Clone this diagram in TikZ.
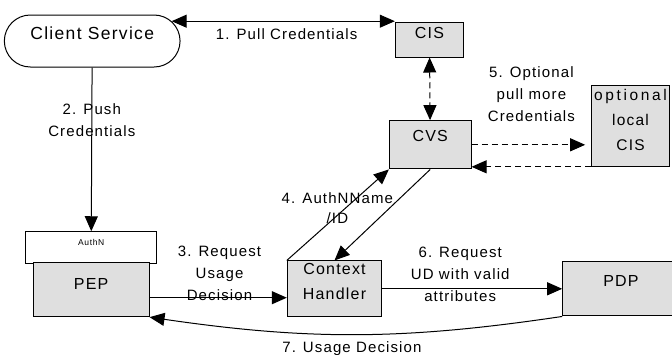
\documentclass[tikz,border=0pt]{standalone}
\usepackage{fontspec}
\setmainfont{Liberation Sans}[LetterSpace=7.5]
\usetikzlibrary{arrows.meta,shapes.misc}
\newlength{\lw}
\setlength{\lw}{1pt}
\tikzstyle{every picture}+=[>={Triangle[length=15pt,width=13pt]}]
\tikzstyle{every picture}+=[line width=\lw]
\tikzstyle{every picture}+=[x=1pt,y=1pt]
\tikzstyle{every picture}+=[node distance=100pt]
\tikzstyle{box}=[draw, fill=gray!25, inner sep=0pt, align=center]
\tikzstyle{box}+=[font=\fontsize{16}{25}\selectfont]
\tikzstyle{lbl}=[inner sep=0pt, align=center]
\tikzstyle{lbl}+=[font=\fontsize{15}{22}\selectfont]
\tikzstyle{opt}=[dash pattern=on 6pt off 4pt]

\begin{document}
\begin{tikzpicture}
\useasboundingbox (0,0) rectangle (672,-354);

\node[box, rounded rectangle, fill=white, minimum width=162.3pt, text height=24.3pt, text depth=27.7pt, font=\fontsize{17.5}{21}\selectfont] (cs) at (92.2,-41) {Client Service};
\node[box, minimum width=68.4pt, text height=16pt, text depth=19pt] (cis) [right of=cs, node distance=337.3pt, yshift=1.5pt] {CIS};
\node[box, minimum width=81.7pt, text height=21pt, text depth=27.3pt] (cvs) [below of=cis, node distance=105.3pt, xshift=0.7pt] {CVS};
\node[box, minimum width=77.6pt, text height=65pt, text depth=16pt, font=\fontsize{15.5}{25}\selectfont] (local) [right of=cvs, node distance=200.3pt, yshift=19pt] {{\addfontfeatures{LetterSpace=17}optional}\\local\\CIS};

\node[box, fill=white, minimum width=131pt, text height=14pt, text depth=17.3pt, font=\fontsize{8.5}{10}\selectfont] (authn) [below of=cs, node distance=206.4pt, xshift=-1pt] {AuthN};
\node[box, minimum width=115.7pt, text height=27pt, text depth=26.7pt] (pep) [below of=authn, node distance=42.4pt] {PEP};
\node[box, minimum width=94.4pt, text height=38.3pt, text depth=17.4pt] (ch) [right of=pep, node distance=243.3pt, yshift=1pt] {Context\\Handler};
\node[box, minimum width=116.6pt, text height=25pt, text depth=29.3pt] (pdp) [right of=ch, node distance=286.5pt] {PDP};

\path[<->]
   (cs.14) edge node[lbl, below=6.6pt, xshift=3.4pt] {1. Pull Credentials} (cs.14 -| cis.west)
   (cis) edge[opt] (cvs)
;
\path[->]
   (cs) edge node[lbl, pos=0.32] {2. Push\\Credentials} (authn)
   ([yshift=-7.9pt]pep.east) edge node[lbl, xshift=1.3pt, yshift=23.9pt] {3. Request\\Usage\\Decision} ([yshift=-7.9pt]pep.east -| ch.west)
   (ch.north west) edge node[lbl, pos=0.58, xshift=-8.6pt, font=\fontsize{15}{20}\selectfont] {4. AuthNName\\/ID} (cvs.south west)
   (cvs.south) edge (ch.north)
   (cvs.east) edge[opt, shorten >=6pt] node[lbl, yshift=50.5pt] {5. Optional\\pull more\\Credentials} (cvs.east -| local.west)
   (local.south west) edge[opt] (local.south west -| cvs.east)
   (ch) edge node[lbl, xshift=-12pt, yshift=14.6pt] {6. Request\\UD with valid\\attributes} (pdp)
   (pdp.south west) edge[bend left=8.4] node[lbl, below=6.5pt, xshift=-4pt] {7. Usage Decision} (pep.south east)
;
\end{tikzpicture}
\end{document}
